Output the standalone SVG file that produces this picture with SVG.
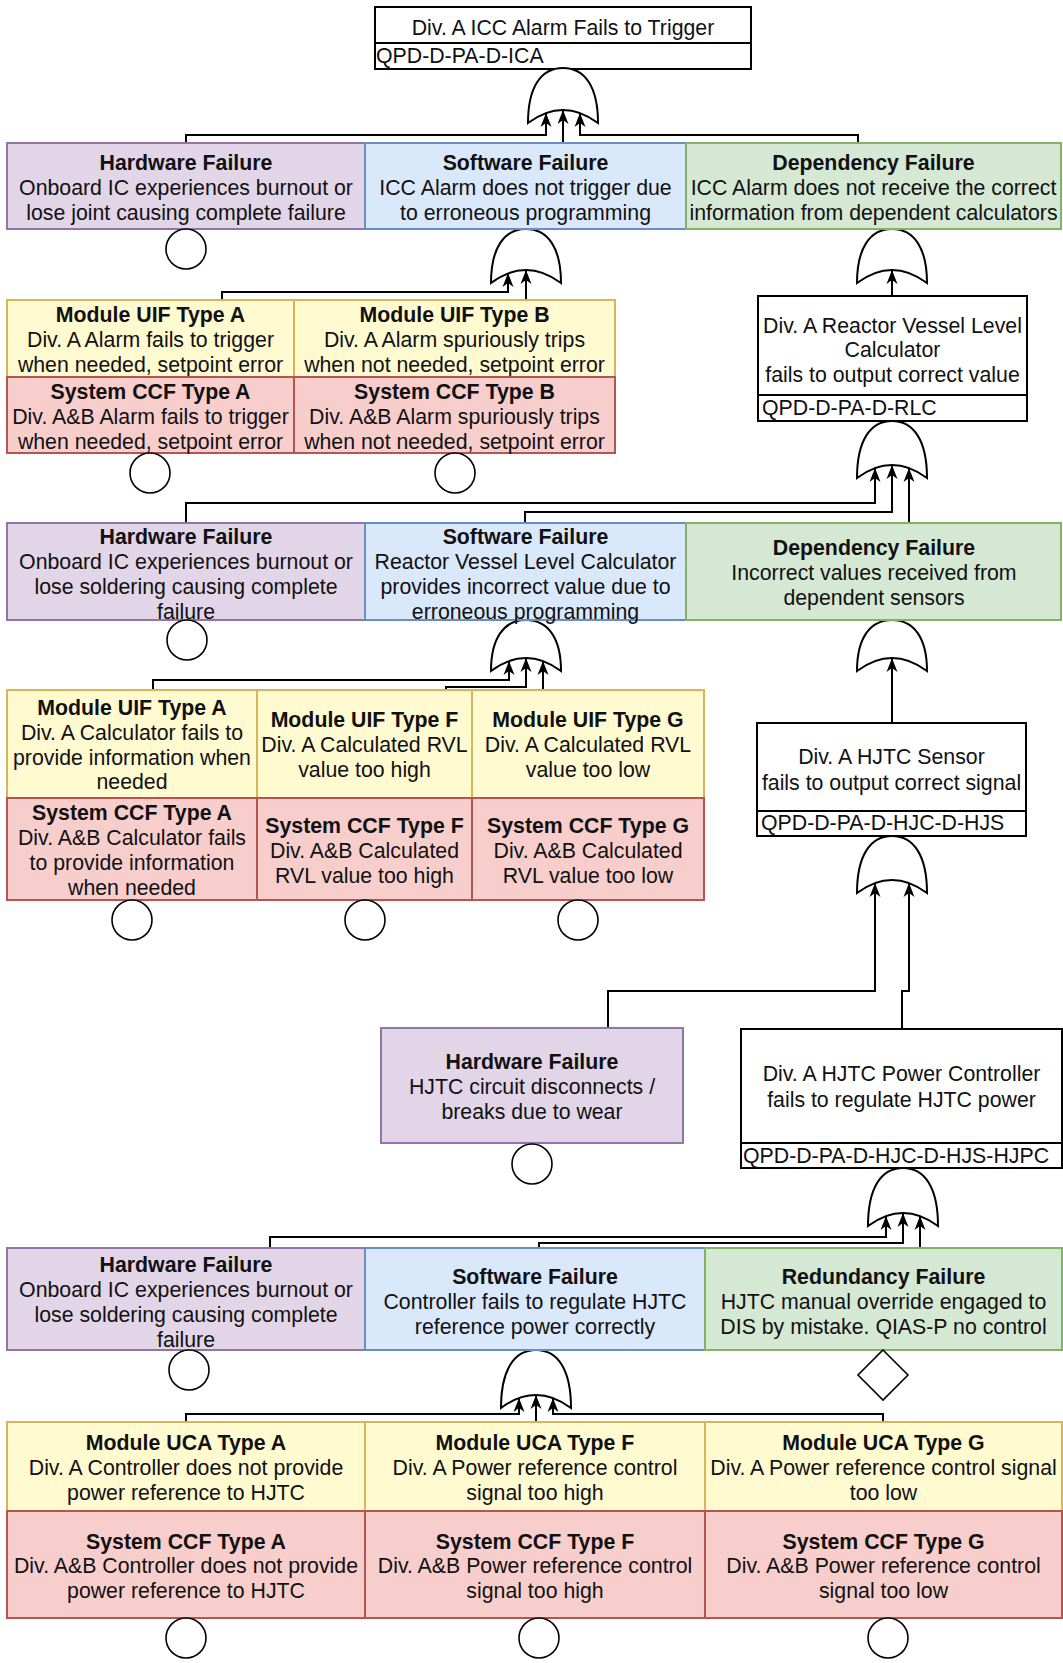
<svg xmlns="http://www.w3.org/2000/svg" width="1063" height="1663" viewBox="0 0 1063 1663">
  <style>
    .t { font-family: "Liberation Sans", Arial, Helvetica, sans-serif; font-size: 21.3px; fill: #111; text-anchor: middle; }
    .b { font-weight: bold; }
    .l { text-anchor: start; }
    .hw { fill: #e1d5e7; stroke: #9673a6; stroke-width: 2; }
    .sw { fill: #dae8fc; stroke: #6c8ebf; stroke-width: 2; }
    .dp { fill: #d5e8d4; stroke: #82b366; stroke-width: 2; }
    .ye { fill: #fffad0; stroke: #d6b656; stroke-width: 2; }
    .rd { fill: #f8cecc; stroke: #b85450; stroke-width: 2; }
    .wb { fill: #ffffff; stroke: #000; stroke-width: 2; }
    .gate { fill: #ffffff; stroke: #000; stroke-width: 2; }
    .ev { fill: #ffffff; stroke: #000; stroke-width: 1.6; }
    .wire { fill: none; stroke: #000; stroke-width: 2; marker-end: url(#arr); }
  </style>
  <defs>
    <marker id="arr" viewBox="-15 -7 16 14" refX="0" refY="0" markerWidth="16" markerHeight="14" orient="auto" markerUnits="userSpaceOnUse">
      <path d="M0,0 L-14,-5.5 L-10,0 L-14,5.5 Z" fill="#000"/>
    </marker>
  </defs>
  <rect width="1063" height="1663" fill="#ffffff"/>

  <!-- connectors -->
  <g id="connectors">
    <path class="wire" d="M186,143 V135 H546 V113"/>
    <path class="wire" d="M563,143 V110"/>
    <path class="wire" d="M858,143 V135 H580 V113"/>

    <path class="wire" d="M222,300 V292 H508 V273"/>
    <path class="wire" d="M526,300 V270"/>
    <path class="wire" d="M892,296 V270"/>

    <path class="wire" d="M186,523 V503 H875 V468"/>
    <path class="wire" d="M525,523 V512 H892 V465"/>
    <path class="wire" d="M909,523 V468"/>

    <path class="wire" d="M153,690 V680 H509 V661"/>
    <path class="wire" d="M446,690 V687 H526 V658"/>
    <path class="wire" d="M543,690 V661"/>
    <path class="wire" d="M892,723 V658"/>

    <path class="wire" d="M608,1028 V991 H875 V883"/>
    <path class="wire" d="M902,1029 V991 H909 V883"/>

    <path class="wire" d="M270,1248 V1237 H886 V1216"/>
    <path class="wire" d="M539,1248 V1243 H903 V1213"/>
    <path class="wire" d="M920,1248 V1216"/>

    <path class="wire" d="M186,1422 V1414 H519 V1398"/>
    <path class="wire" d="M536,1422 V1395"/>
    <path class="wire" d="M883,1422 V1414 H553 V1398"/>
  </g>

  <!-- top event -->
  <g id="top-event">
    <rect class="wb" x="375" y="7" width="376" height="62"/>
    <line x1="375" y1="43" x2="751" y2="43" stroke="#000" stroke-width="2"/>
    <text class="t" x="563" y="35">Div. A ICC Alarm Fails to Trigger</text>
    <text class="t l" x="376" y="63">QPD-D-PA-D-ICA</text>
  </g>

  <!-- OR gates -->
  <g id="gate-ica"><path class="gate" d="M528,123 C528,87 541,68 563,68 C585,68 598,87 598,123 Q563,97 528,123 Z"/></g>
  <g id="gate-sw1"><path class="gate" d="M491,283 C491,248 504,229 526,229 C548,229 561,248 561,283 Q526,257 491,283 Z"/></g>
  <g id="gate-dep1"><path class="gate" d="M857,283 C857,248 870,229 892,229 C914,229 927,248 927,283 Q892,257 857,283 Z"/></g>
  <g id="gate-rlc"><path class="gate" d="M857,478 C857,441 870,421 892,421 C914,421 927,441 927,478 Q892,452 857,478 Z"/></g>
  <g id="gate-sw2"><path class="gate" d="M491,671 C491,638 504,620 526,620 C548,620 561,638 561,671 Q526,645 491,671 Z"/></g>
  <g id="gate-dep2"><path class="gate" d="M857,671 C857,638 870,620 892,620 C914,620 927,638 927,671 Q892,645 857,671 Z"/></g>
  <g id="gate-hjs"><path class="gate" d="M857,893 C857,856 870,836 892,836 C914,836 927,856 927,893 Q892,867 857,893 Z"/></g>
  <g id="gate-hjpc"><path class="gate" d="M868,1226 C868,1188 881,1168 903,1168 C925,1168 938,1188 938,1226 Q903,1200 868,1226 Z"/></g>
  <g id="gate-sw3"><path class="gate" d="M501,1408 C501,1370 514,1350 536,1350 C558,1350 571,1370 571,1408 Q536,1382 501,1408 Z"/></g>

  <!-- level 1 -->
  <g id="hw1">
    <rect class="hw" x="7" y="143" width="358" height="86"/>
    <text class="t b" x="186" y="170">Hardware Failure</text>
    <text class="t" x="186" y="195">Onboard IC experiences burnout or</text>
    <text class="t" x="186" y="220">lose joint causing complete failure</text>
  </g>
  <g id="sw1">
    <rect class="sw" x="365" y="143" width="321" height="86"/>
    <text class="t b" x="525.5" y="170">Software Failure</text>
    <text class="t" x="525.5" y="195">ICC Alarm does not trigger due</text>
    <text class="t" x="525.5" y="220">to erroneous programming</text>
  </g>
  <g id="dep1">
    <rect class="dp" x="686" y="143" width="375" height="86"/>
    <text class="t b" x="873.5" y="170">Dependency Failure</text>
    <text class="t" x="873.5" y="195">ICC Alarm does not receive the correct</text>
    <text class="t" x="873.5" y="220">information from dependent calculators</text>
  </g>
  <g id="ev-hw1"><circle class="ev" cx="186" cy="249" r="20"/></g>

  <!-- alarm failure modes -->
  <g id="uif-a1">
    <rect class="ye" x="7" y="300" width="287" height="77"/>
    <text class="t b" x="150.5" y="322">Module UIF Type A</text>
    <text class="t" x="150.5" y="347">Div. A Alarm fails to trigger</text>
    <text class="t" x="150.5" y="372">when needed, setpoint error</text>
  </g>
  <g id="uif-b1">
    <rect class="ye" x="294" y="300" width="321" height="77"/>
    <text class="t b" x="454.5" y="322">Module UIF Type B</text>
    <text class="t" x="454.5" y="347">Div. A Alarm spuriously trips</text>
    <text class="t" x="454.5" y="372">when not needed, setpoint error</text>
  </g>
  <g id="ccf-a1">
    <rect class="rd" x="7" y="377" width="287" height="76"/>
    <text class="t b" x="150.5" y="399">System CCF Type A</text>
    <text class="t" x="150.5" y="424">Div. A&amp;B Alarm fails to trigger</text>
    <text class="t" x="150.5" y="449">when needed, setpoint error</text>
  </g>
  <g id="ccf-b1">
    <rect class="rd" x="294" y="377" width="321" height="76"/>
    <text class="t b" x="454.5" y="399">System CCF Type B</text>
    <text class="t" x="454.5" y="424">Div. A&amp;B Alarm spuriously trips</text>
    <text class="t" x="454.5" y="449">when not needed, setpoint error</text>
  </g>
  <g id="ev-a1"><circle class="ev" cx="150" cy="473" r="20"/></g>
  <g id="ev-b1"><circle class="ev" cx="455" cy="473" r="20"/></g>

  <!-- RLC intermediate event -->
  <g id="rlc">
    <rect class="wb" x="758" y="296" width="269" height="125"/>
    <line x1="758" y1="395" x2="1027" y2="395" stroke="#000" stroke-width="2"/>
    <text class="t" x="892.5" y="333">Div. A Reactor Vessel Level</text>
    <text class="t" x="892.5" y="357">Calculator</text>
    <text class="t" x="892.5" y="382">fails to output correct value</text>
    <text class="t l" x="762" y="415">QPD-D-PA-D-RLC</text>
  </g>

  <!-- level 2 -->
  <g id="hw2">
    <rect class="hw" x="7" y="523" width="358" height="97"/>
    <text class="t b" x="186" y="544">Hardware Failure</text>
    <text class="t" x="186" y="569">Onboard IC experiences burnout or</text>
    <text class="t" x="186" y="594">lose soldering causing complete</text>
    <text class="t" x="186" y="619">failure</text>
  </g>
  <g id="sw2">
    <rect class="sw" x="365" y="523" width="321" height="97"/>
    <text class="t b" x="525.5" y="544">Software Failure</text>
    <text class="t" x="525.5" y="569">Reactor Vessel Level Calculator</text>
    <text class="t" x="525.5" y="594">provides incorrect value due to</text>
    <text class="t" x="525.5" y="619">erroneous programming</text>
  </g>
  <g id="dep2">
    <rect class="dp" x="686" y="523" width="375" height="97"/>
    <text class="t b" x="874" y="555">Dependency Failure</text>
    <text class="t" x="874" y="580">Incorrect values received from</text>
    <text class="t" x="874" y="605">dependent sensors</text>
  </g>
  <g id="ev-hw2"><circle class="ev" cx="187" cy="640" r="20"/></g>

  <!-- calculator failure modes -->
  <g id="uif-a2">
    <rect class="ye" x="7" y="690" width="250" height="108"/>
    <text class="t b" x="132" y="715">Module UIF Type A</text>
    <text class="t" x="132" y="740">Div. A Calculator fails to</text>
    <text class="t" x="132" y="765">provide information when</text>
    <text class="t" x="132" y="789">needed</text>
  </g>
  <g id="uif-f2">
    <rect class="ye" x="257" y="690" width="215" height="108"/>
    <text class="t b" x="364.5" y="727">Module UIF Type F</text>
    <text class="t" x="364.5" y="752">Div. A Calculated RVL</text>
    <text class="t" x="364.5" y="777">value too high</text>
  </g>
  <g id="uif-g2">
    <rect class="ye" x="472" y="690" width="232" height="108"/>
    <text class="t b" x="588" y="727">Module UIF Type G</text>
    <text class="t" x="588" y="752">Div. A Calculated RVL</text>
    <text class="t" x="588" y="777">value too low</text>
  </g>
  <g id="ccf-a2">
    <rect class="rd" x="7" y="798" width="250" height="102"/>
    <text class="t b" x="132" y="820">System CCF Type A</text>
    <text class="t" x="132" y="845">Div. A&amp;B Calculator fails</text>
    <text class="t" x="132" y="870">to provide information</text>
    <text class="t" x="132" y="895">when needed</text>
  </g>
  <g id="ccf-f2">
    <rect class="rd" x="257" y="798" width="215" height="102"/>
    <text class="t b" x="364.5" y="833">System CCF Type F</text>
    <text class="t" x="364.5" y="858">Div. A&amp;B Calculated</text>
    <text class="t" x="364.5" y="883">RVL value too high</text>
  </g>
  <g id="ccf-g2">
    <rect class="rd" x="472" y="798" width="232" height="102"/>
    <text class="t b" x="588" y="833">System CCF Type G</text>
    <text class="t" x="588" y="858">Div. A&amp;B Calculated</text>
    <text class="t" x="588" y="883">RVL value too low</text>
  </g>
  <g id="ev-a2"><circle class="ev" cx="132" cy="920" r="20"/></g>
  <g id="ev-f2"><circle class="ev" cx="365" cy="920" r="20"/></g>
  <g id="ev-g2"><circle class="ev" cx="578" cy="920" r="20"/></g>

  <!-- HJTC sensor intermediate event -->
  <g id="hjs">
    <rect class="wb" x="757" y="723" width="269" height="113"/>
    <line x1="757" y1="811" x2="1026" y2="811" stroke="#000" stroke-width="2"/>
    <text class="t" x="891.5" y="764">Div. A HJTC Sensor</text>
    <text class="t" x="891.5" y="790">fails to output correct signal</text>
    <text class="t l" x="761" y="830">QPD-D-PA-D-HJC-D-HJS</text>
  </g>

  <!-- HJTC hardware -->
  <g id="hw-hjtc">
    <rect class="hw" x="381" y="1028" width="302" height="115"/>
    <text class="t b" x="532" y="1069">Hardware Failure</text>
    <text class="t" x="532" y="1094">HJTC circuit disconnects /</text>
    <text class="t" x="532" y="1119">breaks due to wear</text>
  </g>
  <g id="ev-hjtc"><circle class="ev" cx="532" cy="1164" r="20"/></g>

  <!-- HJTC power controller intermediate event -->
  <g id="hjpc">
    <rect class="wb" x="741" y="1029" width="321" height="139"/>
    <line x1="741" y1="1143" x2="1062" y2="1143" stroke="#000" stroke-width="2"/>
    <text class="t" x="901.5" y="1081">Div. A HJTC Power Controller</text>
    <text class="t" x="901.5" y="1107">fails to regulate HJTC power</text>
    <text class="t l" x="743" y="1163">QPD-D-PA-D-HJC-D-HJS-HJPC</text>
  </g>

  <!-- level 3 -->
  <g id="hw3">
    <rect class="hw" x="7" y="1248" width="358" height="102"/>
    <text class="t b" x="186" y="1272">Hardware Failure</text>
    <text class="t" x="186" y="1297">Onboard IC experiences burnout or</text>
    <text class="t" x="186" y="1322">lose soldering causing complete</text>
    <text class="t" x="186" y="1347">failure</text>
  </g>
  <g id="sw3">
    <rect class="sw" x="365" y="1248" width="340" height="102"/>
    <text class="t b" x="535" y="1284">Software Failure</text>
    <text class="t" x="535" y="1309">Controller fails to regulate HJTC</text>
    <text class="t" x="535" y="1334">reference power correctly</text>
  </g>
  <g id="red3">
    <rect class="dp" x="705" y="1248" width="357" height="102"/>
    <text class="t b" x="883.5" y="1284">Redundancy Failure</text>
    <text class="t" x="883.5" y="1309">HJTC manual override engaged to</text>
    <text class="t" x="883.5" y="1334">DIS by mistake. QIAS-P no control</text>
  </g>
  <g id="ev-hw3"><circle class="ev" cx="189" cy="1370" r="20"/></g>
  <g id="ev-red3"><path class="ev" d="M883,1350 L908,1375 L883,1400 L858,1375 Z"/></g>

  <!-- controller failure modes -->
  <g id="uca-a3">
    <rect class="ye" x="7" y="1422" width="358" height="89"/>
    <text class="t b" x="186" y="1450">Module UCA Type A</text>
    <text class="t" x="186" y="1475">Div. A Controller does not provide</text>
    <text class="t" x="186" y="1500">power reference to HJTC</text>
  </g>
  <g id="uca-f3">
    <rect class="ye" x="365" y="1422" width="340" height="89"/>
    <text class="t b" x="535" y="1450">Module UCA Type F</text>
    <text class="t" x="535" y="1475">Div. A Power reference control</text>
    <text class="t" x="535" y="1500">signal too high</text>
  </g>
  <g id="uca-g3">
    <rect class="ye" x="705" y="1422" width="357" height="89"/>
    <text class="t b" x="883.5" y="1450">Module UCA Type G</text>
    <text class="t" x="883.5" y="1475">Div. A Power reference control signal</text>
    <text class="t" x="883.5" y="1500">too low</text>
  </g>
  <g id="ccf-a3">
    <rect class="rd" x="7" y="1511" width="358" height="107"/>
    <text class="t b" x="186" y="1549">System CCF Type A</text>
    <text class="t" x="186" y="1573">Div. A&amp;B Controller does not provide</text>
    <text class="t" x="186" y="1598">power reference to HJTC</text>
  </g>
  <g id="ccf-f3">
    <rect class="rd" x="365" y="1511" width="340" height="107"/>
    <text class="t b" x="535" y="1549">System CCF Type F</text>
    <text class="t" x="535" y="1573">Div. A&amp;B Power reference control</text>
    <text class="t" x="535" y="1598">signal too high</text>
  </g>
  <g id="ccf-g3">
    <rect class="rd" x="705" y="1511" width="357" height="107"/>
    <text class="t b" x="883.5" y="1549">System CCF Type G</text>
    <text class="t" x="883.5" y="1573">Div. A&amp;B Power reference control</text>
    <text class="t" x="883.5" y="1598">signal too low</text>
  </g>
  <g id="ev-a3"><circle class="ev" cx="186" cy="1638" r="20"/></g>
  <g id="ev-f3"><circle class="ev" cx="539" cy="1638" r="20"/></g>
  <g id="ev-g3"><circle class="ev" cx="888" cy="1638" r="20"/></g>
</svg>
